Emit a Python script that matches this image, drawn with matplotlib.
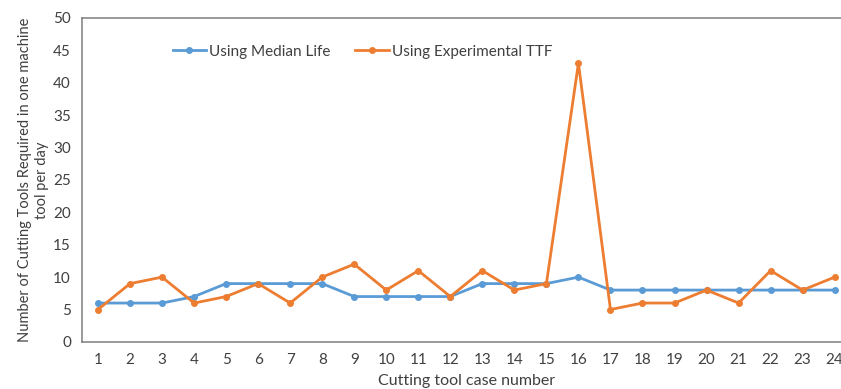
import matplotlib.pyplot as plt

cases = list(range(1, 25))
median_life = [6, 6, 6, 7, 9, 9, 9, 9, 7, 7, 7, 7, 9, 9, 9, 10, 8, 8, 8, 8, 8, 8, 8, 8]
experimental_ttf = [5, 9, 10, 6, 7, 9, 6, 10, 12, 8, 11, 7, 11, 8, 9, 43, 5, 6, 6, 8, 6, 11, 8, 10]

plt.rcParams['font.family'] = ['Lato', 'DejaVu Sans']

fig = plt.figure(figsize=(8.41, 3.89), dpi=100)
ax = fig.add_axes([0.0975, 0.121, 0.914, 0.833])

ax.plot(cases, median_life, color='#5B9BD5', linewidth=2, marker='o', markersize=4,
        label='Using Median Life')
ax.plot(cases, experimental_ttf, color='#ED7D31', linewidth=2, marker='o', markersize=4,
        label='Using Experimental TTF')

ax.set_xlim(0.5, 24.5)
ax.set_ylim(0, 50)
ax.set_xticks(cases)
ax.set_yticks(range(0, 51, 5))
ax.tick_params(length=0, labelsize=11, colors='#404040', pad=8)
for s in ax.spines.values():
    s.set_color('#888888')
    s.set_linewidth(1.2)

ax.set_xlabel('Cutting tool case number', fontsize=11.5, color='#404040', labelpad=5)
ax.set_ylabel('Number of Cutting Tools Required in one machine\ntool per day',
              fontsize=10.5, color='#404040', labelpad=3, linespacing=1.3)

ax.legend(loc='upper left', bbox_to_anchor=(0.1, 0.96), ncol=2, frameon=False,
          fontsize=11, handlelength=2.2, handletextpad=0.2, columnspacing=1.6,
          labelcolor='#404040')

fig.savefig('out.png', dpi=100)
